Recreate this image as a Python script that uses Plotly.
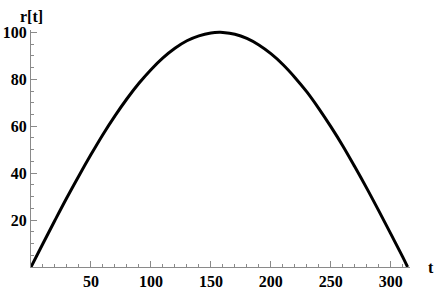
import plotly.graph_objects as go

t_vals = [0, 10, 20, 30, 40, 50, 60, 70, 80, 90, 100, 110, 120, 130, 140, 150, 157,
          160, 170, 180, 190, 200, 210, 220, 230, 240, 250, 260, 270, 280, 290, 300, 310, 314]
r_vals = [0, 10.0, 19.9, 29.6, 38.9, 47.9, 56.5, 64.4, 71.7, 78.3, 84.1, 89.1, 93.2, 96.4,
          98.5, 99.7, 100.0, 99.96, 99.2, 97.4, 94.6, 90.9, 86.3, 80.8, 74.6, 67.5, 59.8,
          51.6, 42.7, 33.5, 23.9, 14.1, 4.2, 0]

x_ticks = [0, 50, 100, 150, 200, 250, 300]
x_labels = ["", "50", "100", "150", "200", "250", "300"]
y_ticks = [0, 20, 40, 60, 80, 100]
y_labels = ["", "20", "40", "60", "80", "100"]

axcol = "#8a8a8a"
tfont = dict(family="Liberation Serif", size=16, color="black", weight="bold")

fig = go.Figure(go.Scatter(x=t_vals, y=r_vals, mode="lines",
                           line=dict(color="black", width=3, shape="spline"),
                           hoverinfo="skip"))

fig.update_layout(
    width=436, height=289,
    margin=dict(l=31, r=26, t=30, b=22),
    paper_bgcolor="white", plot_bgcolor="white",
    showlegend=False,
)
fig.update_xaxes(range=[0, 316], tickmode="array", tickvals=x_ticks, ticktext=x_labels,
                 ticks="inside", ticklen=6, tickcolor=axcol, showline=True, linecolor=axcol,
                 linewidth=1, showgrid=False, zeroline=False, automargin=False,
                 tickfont=tfont,
                 minor=dict(tickmode="linear", tick0=0, dtick=10, ticks="inside", ticklen=3,
                            tickcolor=axcol, showgrid=False))
fig.update_yaxes(range=[0, 101], tickmode="array", tickvals=y_ticks, ticktext=y_labels,
                 ticks="inside", ticklen=6, tickcolor=axcol, showline=True, linecolor=axcol,
                 linewidth=1, showgrid=False, zeroline=False, automargin=False,
                 tickfont=tfont,
                 minor=dict(tickmode="linear", tick0=0, dtick=5, ticks="inside", ticklen=3,
                            tickcolor=axcol, showgrid=False))

fig.add_annotation(text="r[t]", xref="paper", yref="paper", x=0, y=1,
                   xanchor="center", yanchor="bottom", yshift=3, showarrow=False,
                   font=dict(family="Liberation Serif", size=16, color="black", weight="bold"))
fig.add_annotation(text="t", xref="paper", yref="paper", x=1, y=0,
                   xanchor="center", yanchor="middle", xshift=21, showarrow=False,
                   font=dict(family="Liberation Serif", size=16, color="black", weight="bold"))

fig.write_html("out.html", config={"displayModeBar": False},
               post_script="document.body.style.margin='0';document.body.style.overflow='hidden';")
